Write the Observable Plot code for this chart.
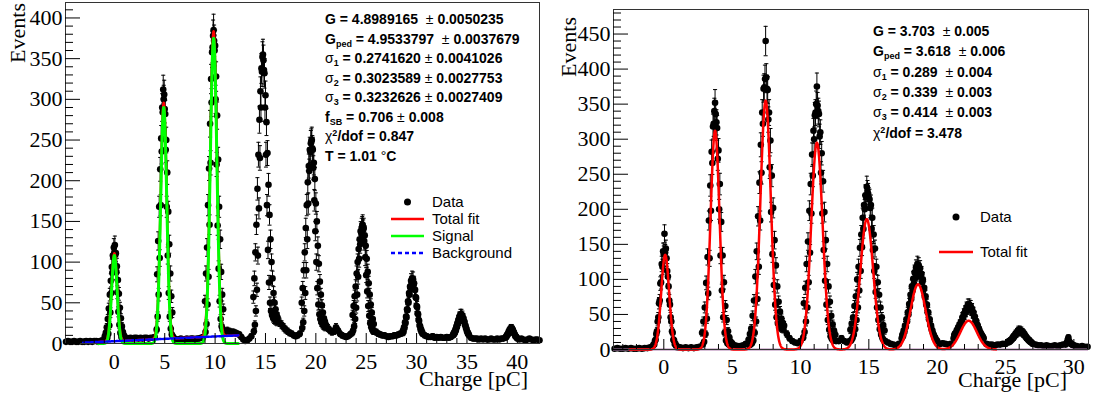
<!DOCTYPE html>
<html>
<head>
<meta charset="utf-8">
<script src="https://cdn.jsdelivr.net/npm/d3@7"></script>
<script src="https://cdn.jsdelivr.net/npm/@observablehq/plot@0.6"></script>
<style>
  html, body { margin: 0; padding: 0; background: #fff; }
  #wrap { position: relative; width: 1100px; height: 397px; overflow: hidden; background: #fff; }
  #wrap > svg { position: absolute; top: 0; }
  .stat { position: absolute; white-space: nowrap; font-family: "Liberation Sans", Arial, sans-serif;
          font-weight: bold; font-size: 14px; color: #000; }
  .stat i { font-style: normal; font-weight: normal; }
  .stat sub { font-size: 9px; vertical-align: -3px; line-height: 0; }
  .stat sup { font-size: 9px; vertical-align: 5px; line-height: 0; }
  .leg { position: absolute; white-space: nowrap; font-family: "Liberation Sans", Arial, sans-serif;
         font-size: 15px; color: #000; }
  .title { font-family: "Liberation Serif", "Times New Roman", serif; font-size: 22px; }
</style>
</head>
<body>
<div id="wrap"></div>
<script>
// ---------------- data ----------------
// Histogram segments: [first bin centre (pC), bin step (pC), counts]
// 0.2 pC steps between the peaks, 0.05 pC steps across each peak.
const leftSegments = [
  [-4.8, 0.2, [2,3,2,2,3,2,2,3,2,2,3,2,3,2,3,3,2,3,4]],
  [-1.0, 0.05, [4,9,4,13,5,20,7,30,12,43,22,60,38,77,62,94,87,108,106,118,
                112,121,109,111,88,95,63,78,39,61,23,44,13,31,8,21,6,14,5,10,5]],
  [1.2, 0.2, [7,6,7,6,7,7,6,7,6,7,7,6,7,7,8]],
  [4.2, 0.05, [17,85,33,126,60,168,105,214,170,252,236,290,284,312,300,306,288,282,238,250,
               168,210,108,162,62,122,33,86,18,58,11,38,9]],
  [6.0, 0.2, [6,5,5,6,5,5,6,5,6,6,5,6,6,7,8]],
  [9.0, 0.05, [52,14,86,24,118,48,170,82,215,146,270,222,325,296,358,364,378,385,372,360,
               366,300,328,220,280,145,226,92,168,52,128,30,88,21,60,17,42]],
  [11.0, 0.2, [15,16,15,14,14,13,12,11,8,5,3,4,6,9]],
  [13.8, 0.05, [57,15,80,23,112,40,146,66,190,108,232,166,275,228,310,290,338,334,352,355,
                348,336,332,290,305,232,272,170,234,115,195,75,158,50,128,40,100,35,80,32,
                62,30,50,29,42,28,36,27,32]],
  [16.4, 0.2, [26,23,20,17,15,13,12,10,9,10,12]],
  [18.6, 0.05, [50,19,68,26,90,40,112,62,142,90,170,128,198,172,218,212,238,236,246,248,
                250,240,238,216,222,176,202,138,172,100,150,68,120,48,98,36,76,30,60,26,
                47,24,38,22,31,21,27,20,23]],
  [21.2, 0.2, [19,16,14,15,20,16,12,10,9,8,9,11]],
  [23.6, 0.05, [13,35,16,46,21,58,30,70,44,86,60,100,82,116,104,128,122,138,136,142,
                144,146,140,142,126,133,106,120,84,104,64,88,46,74,34,60,25,48,20,38,
                17,30,15,24,15]],
  [26.0, 0.2, [14,12,11,10,10,9,8,9,9,10,10,11,12]],
  [28.6, 0.05, [13,16,14,20,19,26,25,33,32,42,41,52,50,62,60,70,68,77,73,80,
                74,79,72,74,66,66,57,56,46,45,37,36,29,28,22,21,17,17,14,14,12]],
  [30.8, 0.2, [10,9,8,8,9,7,8,7,8,7,7,8,7,8]],
  [33.6, 0.05, [10,12,11,14,13,17,16,21,20,25,24,29,28,33,31,36,33,36,32,34,
                30,31,27,27,23,22,19,18,15,14,12,12,10]],
  [35.4, 0.2, [7,6,6,6,5,6,5,6,5,5,6,5,5,6,5,6,6]],
  [38.8, 0.05, [7,8,8,10,10,12,12,15,14,17,16,19,17,19,16,17,14,14,12,11,9,9,8,7,6]],
  [40.2, 0.2, [5,6,5,4,5,6,5,4,5,5,4]]
];
const rightSegments = [
  [-3.6, 0.2, [1,2,1,1,2,1,2,1,1,2,1,2,2,3]],
  [-0.8, 0.05, [5,7,7,12,14,22,26,40,46,66,70,94,96,122,118,140,136,165,138,144,
                130,112,104,90,70,64,46,40,26,24,14,13,8,8,5,5,3]],
  [1.2, 0.2, [3,2,3,2,3,2,3,4]],
  [2.8, 0.05, [24,7,40,11,60,22,95,44,132,80,184,130,234,198,282,266,318,322,340,352,
               336,324,316,272,284,200,236,134,182,84,134,46,96,24,62,13,42,9,26,7,
               17,6,11,6,9]],
  [5.2, 0.2, [6,5,5,6,8]],
  [6.2, 0.05, [14,6,22,7,30,9,48,13,70,24,104,40,140,72,190,118,238,184,292,252,
               338,322,372,374,386,440,388,372,370,328,338,260,298,196,248,136,202,92,156,64,
               120,46,90,37,68,33,54,31,44,30,38,29,34]],
  [9.0, 0.2, [22,16,12,10,9,12]],
  [10.2, 0.05, [17,66,25,88,40,122,60,154,96,198,138,236,194,278,248,312,300,334,338,350,
                375,348,340,336,304,310,252,280,194,240,142,196,98,156,64,122,42,90,28,68,
                19,48,15,36,13,27,13,21,12]],
  [12.8, 0.2, [12,16,12,10]],
  [13.6, 0.05, [12,28,13,37,16,46,21,62,29,76,42,100,60,118,84,145,112,164,146,188,
                172,206,200,220,218,232,226,222,216,214,202,206,172,188,142,164,112,144,82,118,
                60,96,42,78,29,60,21,46,16,35,13,27,12]],
  [16.4, 0.2, [10,8,7,6,8]],
  [17.4, 0.05, [16,21,19,27,25,34,32,43,40,53,50,65,61,78,72,90,84,101,94,110,
                102,117,108,122,112,120,110,116,104,108,96,100,86,88,75,76,64,64,53,53,
                43,43,35,34,28,27,22,21,17,17,14,13,12]],
  [20.2, 0.2, [8,9,8,7,8]],
  [21.2, 0.05, [16,21,19,24,23,28,27,32,31,36,35,40,40,46,45,51,50,55,54,60,
                58,64,60,64,58,62,56,58,52,53,47,47,41,41,36,35,31,30,26,25,
                22,21,19,18,16]],
  [23.6, 0.2, [8,7,7,6,7,7,8,8]],
  [25.2, 0.05, [10,12,11,13,13,15,15,18,17,20,20,23,22,25,24,28,25,28,25,27,
                24,25,22,23,20,20,17,17,15,15,13,13,11,11,10,9,8]],
  [27.2, 0.2, [7,6,6,5,6,5,5,6,5,6,7]],
  [29.4, 0.05, [7,9,10,14,17,12,10,9,8,7,7,6,6]],
  [30.2, 0.2, [5,4,5,4,4]]
];

// Left fit components
const leftSignalMeans  = [0.0, 4.9, 9.85];
const leftSignalAmps   = [108, 290, 375];
const leftSignalSigmas = [0.274, 0.302, 0.323];
const leftFitRange = [-1.6, 12.3];
const leftBgRange  = [-3.1, 12.3];
const leftBgLevels = [1, 10];

// Right fit components
const rightFitMeans  = [0.1, 3.75, 7.45, 11.2, 14.85, 18.6, 22.3];
const rightFitAmps   = [135, 312, 355, 295, 186, 93, 41];
const rightFitSigmas = [0.29, 0.33, 0.38, 0.42, 0.47, 0.55, 0.6];
const rightFitRange  = [-2.5, 24.3];
const rightBgLevel   = 0;

// Axis ticks
const leftYMajor  = [0,50,100,150,200,250,300,350,400];
const leftYMinor  = d3.range(0, 420, 10).filter(v => v % 50 !== 0);
const leftXMajor  = [0,5,10,15,20,25,30,35,40];
const leftXMinor  = d3.range(-4, 43, 1).filter(v => v % 5 !== 0);
const rightYMajor = [0,50,100,150,200,250,300,350,400,450];
const rightYMinor = d3.range(0, 485, 10).filter(v => v % 50 !== 0);
const rightXMajor = [0,5,10,15,20,25,30];
const rightXMinor = d3.range(-3, 32, 1).filter(v => v % 5 !== 0);

// Texts
const leftStats = [
  "G = 4.8989165 &nbsp;<i>±</i> 0.0050235",
  "G<sub>ped</sub> = 4.9533797 &nbsp;<i>±</i> 0.0037679",
  "<i>σ</i><sub>1</sub> = 0.2741620 <i>±</i> 0.0041026",
  "<i>σ</i><sub>2</sub> = 0.3023589 <i>±</i> 0.0027753",
  "<i>σ</i><sub>3</sub> = 0.3232626 <i>±</i> 0.0027409",
  "f<sub>SB</sub> = 0.706 <i>±</i> 0.008",
  "<i>χ</i><sup>2</sup>/dof = 0.847",
  "T = 1.01 <i>°</i>C"
];
const rightStats = [
  "G = 3.703 &nbsp;<i>±</i> 0.005",
  "G<sub>ped</sub> = 3.618 &nbsp;<i>±</i> 0.006",
  "<i>σ</i><sub>1</sub> = 0.289 &nbsp;<i>±</i> 0.004",
  "<i>σ</i><sub>2</sub> = 0.339 &nbsp;<i>±</i> 0.003",
  "<i>σ</i><sub>3</sub> = 0.414 &nbsp;<i>±</i> 0.003",
  "<i>χ</i><sup>2</sup>/dof = 3.478"
];
const leftLegend  = [["Data","dot"],["Total fit","#ff0000"],["Signal","#00ff00"],["Background","#0000ff"]];
const rightLegend = [["Data","dot"],["Total fit","#ff0000"]];
const yTitle = "Events";
const xTitle = "Charge [pC]";

// ---------------- helpers ----------------
const rows = segs => segs.flatMap(([start, step, counts]) =>
  counts.map((n, i) => ({x: +(start + i * step).toFixed(3), n})));
const gauss = (means, amps, sigmas) => x =>
  d3.sum(means, (m, i) => amps[i] * Math.exp(-((x - m) ** 2) / (2 * sigmas[i] ** 2)));
const sample = (range, f) => d3.range(range[0], range[1] + 1e-9, 0.01).map(x => ({x, y: f(x)}));

const leftRows = rows(leftSegments);
const rightRows = rows(rightSegments);

const leftSig = gauss(leftSignalMeans, leftSignalAmps, leftSignalSigmas);
const leftBgF = x => leftBgLevels[0] + (leftBgLevels[1] - leftBgLevels[0]) * (x - leftBgRange[0]) / (leftBgRange[1] - leftBgRange[0]);
const leftSignal = sample(leftFitRange, leftSig);
const leftTotal = sample(leftFitRange, x => leftSig(x) + leftBgF(x));
const leftBg = sample(leftBgRange, leftBgF);
const rightTotal = sample(rightFitRange, x => rightBgLevel + gauss(rightFitMeans, rightFitAmps, rightFitSigmas)(x));

function dataMarks(rowsArr, capHalf) {
  const err = d => Math.sqrt(d.n);
  return [
    Plot.ruleX(rowsArr, {x: "x", y1: d => d.n - err(d), y2: d => d.n + err(d), stroke: "#000", strokeWidth: 1}),
    Plot.link(rowsArr, {x1: d => d.x - capHalf, x2: d => d.x + capHalf, y1: d => d.n + err(d), y2: d => d.n + err(d), stroke: "#000", strokeWidth: 1}),
    Plot.link(rowsArr, {x1: d => d.x - capHalf, x2: d => d.x + capHalf, y1: d => d.n - err(d), y2: d => d.n - err(d), stroke: "#000", strokeWidth: 1}),
    Plot.dot(rowsArr, {x: "x", y: "n", r: 3.3, fill: "#000", stroke: "none"})
  ];
}
function axisMarks(yMajor, yMinor, xMajor, xMinor, xPad) {
  return [
    Plot.axisY(yMajor, {anchor: "left", tickSize: -15, tickPadding: 18, label: null, tickFormat: d => String(d)}),
    Plot.axisY(yMinor, {anchor: "left", tickSize: -8, fill: "none", label: null}),
    Plot.axisX(xMajor, {anchor: "bottom", tickSize: -10, tickPadding: xPad, label: null, tickFormat: d => String(d)}),
    Plot.axisX(xMinor, {anchor: "bottom", tickSize: -5, fill: "none", label: null})
  ];
}
const plotStyle = {fontFamily: "'Liberation Serif', 'Times New Roman', serif", fontSize: "22px", background: "transparent", overflow: "visible", color: "#000"};

const leftPlot = Plot.plot({
  width: 550, height: 397,
  marginLeft: 65, marginRight: 11, marginTop: 2, marginBottom: 54,
  style: plotStyle,
  x: {domain: [-4.85, 42.2], axis: null},
  y: {domain: [0, 419], axis: null},
  marks: [
    ...dataMarks(leftRows, 0.2),
    Plot.line(leftTotal, {x: "x", y: "y", stroke: "#ff0000", strokeWidth: 2.5}),
    Plot.line(leftSignal, {x: "x", y: "y", stroke: "#00ff00", strokeWidth: 3}),
    Plot.line(leftBg, {x: "x", y: "y", stroke: "#0000ff", strokeWidth: 2.5, strokeDasharray: "6,2"}),
    Plot.frame({stroke: "#333", strokeWidth: 1}),
    ...axisMarks(leftYMajor, leftYMinor, leftXMajor, leftXMinor, 20)
  ]
});

const rightPlot = Plot.plot({
  width: 550, height: 397,
  marginLeft: 63, marginRight: 12, marginTop: 9, marginBottom: 48,
  style: plotStyle,
  x: {domain: [-3.68, 31.07], axis: null},
  y: {domain: [0, 485], axis: null},
  marks: [
    ...dataMarks(rightRows, 0.15),
    Plot.ruleY([rightBgLevel], {stroke: "#b07fb0", strokeWidth: 2}),
    Plot.line(rightTotal, {x: "x", y: "y", stroke: "#ff0000", strokeWidth: 2.5}),
    Plot.frame({stroke: "#333", strokeWidth: 1}),
    ...axisMarks(rightYMajor, rightYMinor, rightXMajor, rightXMinor, 19)
  ]
});

const wrap = document.getElementById("wrap");
leftPlot.style.left = "0px";
rightPlot.style.left = "550px";
wrap.appendChild(leftPlot);
wrap.appendChild(rightPlot);

// Axis titles
const over = d3.select(wrap).append("svg")
  .attr("width", 1100).attr("height", 397)
  .style("left", "0px").style("pointer-events", "none").style("overflow", "visible");
[[25, 3], [576, 17]].forEach(([x, y]) => {
  over.append("text").attr("class", "title").attr("text-anchor", "end")
    .attr("transform", `translate(${x},${y}) rotate(-90)`).text(yTitle);
});
[[528, 386], [1067, 387]].forEach(([x, y]) => {
  over.append("text").attr("class", "title").attr("text-anchor", "end")
    .attr("x", x).attr("y", y).text(xTitle);
});

// Fit statistics boxes
function addStats(lines, x, y0, step) {
  lines.forEach((html, i) => {
    const d = document.createElement("div");
    d.className = "stat";
    d.style.left = x + "px";
    d.style.top = (y0 + i * step - step / 2) + "px";
    d.style.height = step + "px";
    d.style.lineHeight = step + "px";
    d.innerHTML = html;
    wrap.appendChild(d);
  });
}
addStats(leftStats, 325, 20, 19.5);
addStats(rightStats, 873, 31, 20.4);

// Legends
function addLegend(entries, symX0, symX1, textX, ys) {
  entries.forEach(([label, kind], i) => {
    const y = ys[i];
    const g = over.append("g");
    if (kind === "dot") {
      g.append("circle").attr("cx", (symX0 + symX1) / 2).attr("cy", y).attr("r", 3.5).attr("fill", "#000");
    } else {
      g.append("line").attr("x1", symX0).attr("x2", symX1).attr("y1", y).attr("y2", y)
        .attr("stroke", kind).attr("stroke-width", 2.5)
        .attr("stroke-dasharray", label === "Background" ? "4,3" : null);
    }
    const d = document.createElement("div");
    d.className = "leg";
    d.style.left = textX + "px";
    d.style.top = (y - 10) + "px";
    d.style.height = "20px";
    d.style.lineHeight = "20px";
    d.textContent = label;
    wrap.appendChild(d);
  });
}
addLegend(leftLegend, 391, 424, 432, [202, 219, 236, 253]);
addLegend(rightLegend, 939, 973, 980, [217, 252]);
</script>
</body>
</html>
